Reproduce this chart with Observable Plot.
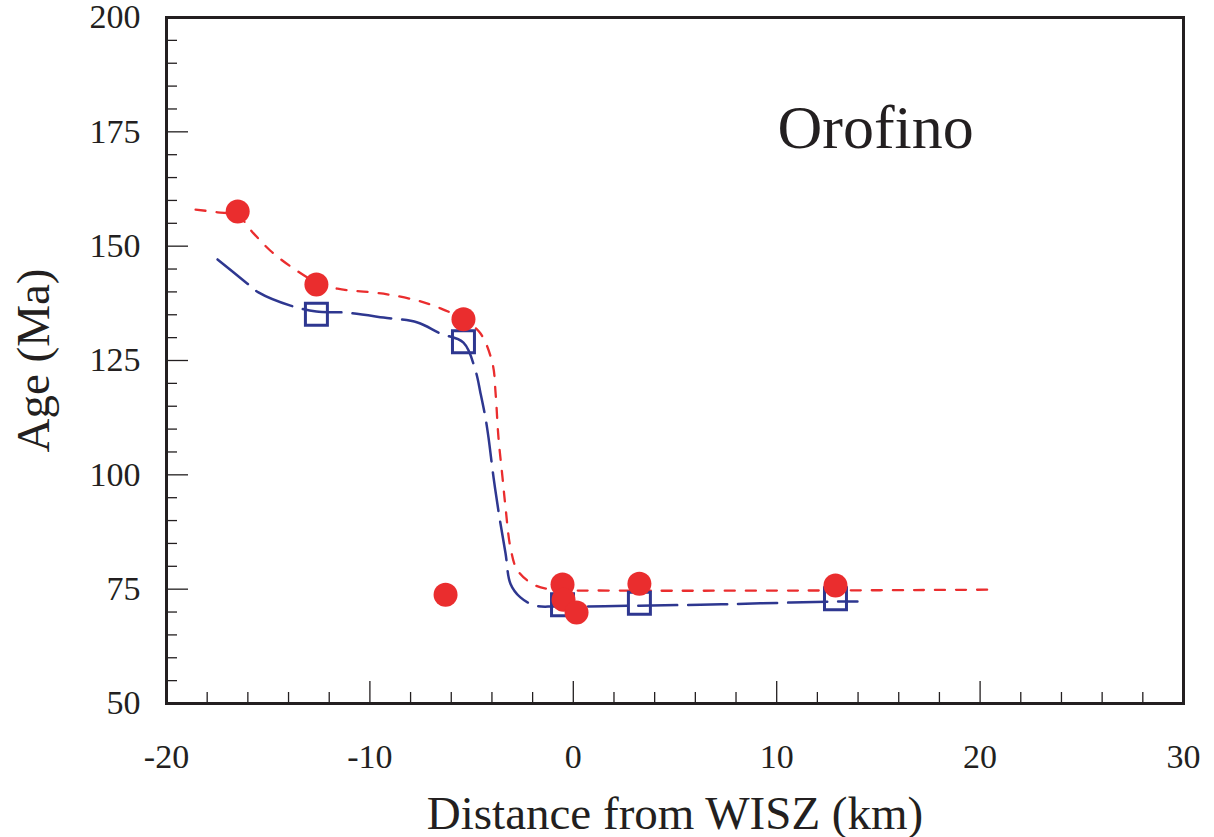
<!DOCTYPE html>
<html><head><meta charset="utf-8">
<script src="https://cdn.jsdelivr.net/npm/d3@7"></script>
<script src="https://cdn.jsdelivr.net/npm/@observablehq/plot@0.6"></script>
<style>body{margin:0;background:#fff} svg{display:block} svg text{font-family:"Liberation Serif","Times New Roman",serif !important}</style>
</head><body><div id="chart"></div>
<script>
// Measured points
const circleDist = [-16.5, -12.63, -5.4, -6.28, -0.53, -0.48, 0.16, 3.25, 12.89];
const circleAge  = [157.6, 141.6, 134.0, 73.8, 76.0, 72.7, 69.9, 76.2, 75.8];
const squareDist = [-12.63, -5.4, -0.53, 3.25, 12.89];
const squareAge  = [135.1, 129.1, 71.6, 71.9, 72.9];

// Fitted curves
const redCurveDist = [-18.57, -17.49, -16.51, -15.72, -14.89, -13.91, -12.63, -11.59, -9.33, -7.66, -6.53, -5.40, -4.56, -3.97, -3.82, -3.68, -3.48, -3.33, -3.09, -2.74, -1.86, -0.88, 1.83, 11.17, 20.76];
const redCurveAge  = [158.0, 157.4, 156.7, 152.8, 149.0, 145.6, 142.1, 140.7, 139.6, 138.1, 136.4, 134.0, 130.9, 124.3, 117.8, 108.2, 99.4, 92.8, 84.1, 79.1, 75.8, 74.9, 74.7, 74.7, 74.9];
const blueCurveDist = [-17.49, -16.02, -15.48, -13.90, -12.63, -11.30, -9.33, -7.66, -6.53, -5.40, -4.81, -4.56, -4.32, -4.17, -3.92, -3.63, -3.33, -3.09, -2.60, -1.86, -0.88, 3.25, 6.25, 9.20, 12.89, 13.97];
const blueCurveAge  = [147.1, 141.8, 139.9, 137.0, 135.7, 135.5, 134.4, 133.3, 130.9, 128.9, 122.8, 117.8, 112.5, 108.2, 99.4, 90.7, 82.8, 76.2, 73.2, 71.4, 71.2, 71.4, 71.6, 71.9, 72.3, 72.3];

// Axis ticks
const xTicks = [-20, -10, 0, 10, 20, 30];
const xMinor = [-18, -16, -14, -12, -8, -6, -4, -2, 2, 4, 6, 8, 12, 14, 16, 18, 22, 24, 26, 28];
const yTicks = [50, 75, 100, 125, 150, 175, 200];
const yMinor = [55, 60, 65, 70, 80, 85, 90, 95, 105, 110, 115, 120, 130, 135, 140, 145, 155, 160, 165, 170, 180, 185, 190, 195];

const xLabel = "Distance from WISZ (km)";
const yLabel = "Age (Ma)";
const panelTitle = "Orofino";

const circles = circleDist.map((d, i) => ({d, a: circleAge[i]}));
const squares = squareDist.map((d, i) => ({d, a: squareAge[i]}));
const redCurve = redCurveDist.map((d, i) => ({d, a: redCurveAge[i]}));
const blueCurve = blueCurveDist.map((d, i) => ({d, a: blueCurveAge[i]}));

const W = 1214, H = 837, mL = 166, mR = 31, mT = 17, mB = 134;
const plotW = W - mL - mR, plotH = H - mT - mB;
const ink = "#231f20", red = "#ea2d2e", blue = "#2e3790";
const font = '"Liberation Serif", "Times New Roman", serif';

const chart = Plot.plot({
  width: W, height: H,
  marginLeft: mL, marginRight: mR, marginTop: mT, marginBottom: mB,
  style: {fontFamily: font, color: ink, background: "#fff", overflow: "visible"},
  x: {domain: [-20, 30], axis: null},
  y: {domain: [50, 200], axis: null},
  marks: [
    Plot.tickX(xMinor, {x: d => d, insetTop: plotH - 11, stroke: ink, strokeWidth: 1.3}),
    Plot.tickX(xTicks, {x: d => d, insetTop: plotH - 22, stroke: ink, strokeWidth: 1.3}),
    Plot.tickY(yMinor, {y: d => d, insetRight: plotW - 11, stroke: ink, strokeWidth: 1.3}),
    Plot.tickY(yTicks, {y: d => d, insetRight: plotW - 22, stroke: ink, strokeWidth: 1.3}),
    Plot.axisX(xTicks, {tickSize: 0, tickPadding: 40, fontSize: 34, fontFamily: font, fill: ink, tickFormat: d => String(d), label: null}),
    Plot.axisY(yTicks, {tickSize: 0, tickPadding: 26, fontSize: 34, fontFamily: font, fill: ink, tickFormat: d => String(d), label: null}),
    Plot.line(blueCurve, {x: "d", y: "a", curve: "catmull-rom", stroke: blue, strokeWidth: 2.5, strokeDasharray: "39,11"}),
    Plot.line(redCurve, {x: "d", y: "a", curve: "catmull-rom", stroke: red, strokeWidth: 2.3, strokeDasharray: "10,11"}),
    Plot.dot(squares, {x: "d", y: "a", symbol: "square", r: 12.4, stroke: blue, strokeWidth: 3, fill: "none"}),
    Plot.dot(circles, {x: "d", y: "a", r: 12, fill: red, stroke: "none"}),
    Plot.text([panelTitle], {frameAnchor: "top-left", dx: 611, dy: 111, textAnchor: "start", lineAnchor: "middle", fontSize: 62, fontFamily: font, fill: ink}),
    Plot.text([xLabel], {frameAnchor: "bottom", dy: 110, textAnchor: "middle", lineAnchor: "middle", fontSize: 47, fontFamily: font, fill: ink}),
    Plot.text([yLabel], {frameAnchor: "left", dx: -133, rotate: -90, textAnchor: "middle", lineAnchor: "middle", fontSize: 47, fontFamily: font, fill: ink}),
    Plot.frame({stroke: ink, strokeWidth: 3})
  ]
});
document.getElementById("chart").append(chart);
</script>
</body></html>
